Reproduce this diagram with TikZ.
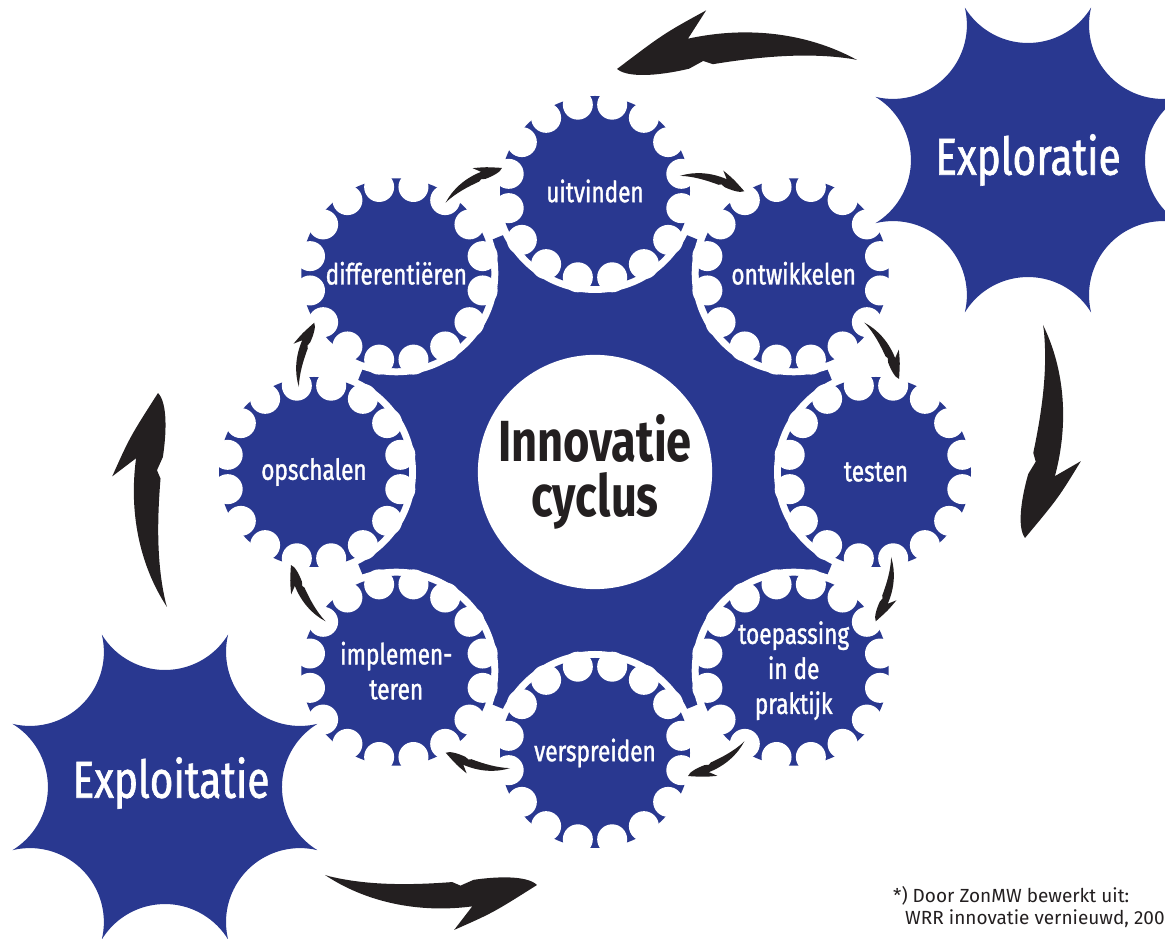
\documentclass[tikz,border=0pt]{standalone}
\usepackage{fontspec}
\setmainfont{Fira Sans}[FakeStretch=0.78]
\newfontfamily\gearfont{Fira Sans}[FakeStretch=0.78,FakeBold=1.2]
\newfontfamily\notefont{Fira Sans}
\usetikzlibrary{calc}
\definecolor{zonblue}{RGB}{41,56,144}
\definecolor{inkblack}{RGB}{35,31,32}
\tikzset{
  brush/.pic={\fill[inkblack] (0,0) .. controls (0.2,0.12) and (0.45,0.16) .. (0.7,0.115)
    -- (0.62,0.23) .. controls (0.8,0.14) .. (1,0)
    .. controls (0.95,-0.045) and (0.8,-0.03) .. (0.7,-0.01) -- (0.64,0.02) -- (0.6,0.005)
    .. controls (0.4,0.03) and (0.2,0.04) .. (0.02,0.005) -- cycle;},
  gear/.style={circle,fill=zonblue,minimum size=190pt,inner sep=0pt,text=white,align=center,
    font=\gearfont\fontsize{29}{35}\selectfont},
  bigtext/.style={text=white,font=\gearfont\fontsize{52}{52}\selectfont},
  note/.style={anchor=base west,inner sep=0pt,text=inkblack,font=\notefont\fontsize{19}{19}\selectfont}
}
\newcommand\brusharrow[3][]{%
  \path let \p1=($(#3)-(#2)$), \n1={atan2(\y1,\x1)}, \n2={veclen(\x1,\y1)} in
    (#2) pic[rotate=\n1,#1,scale=\n2/1pt] {brush};}

\begin{document}
\begin{tikzpicture}[x=1pt,y=1pt]
\useasboundingbox (0,0) rectangle (1165,939);
\clip (0,0) rectangle (1165,939);
\coordinate (C0) at (595,467);
\coordinate (explor) at (1028,779);
\coordinate (exploit) at (165,152);

% central star with the cycle
\fill[zonblue] (C0) circle (254pt);
\foreach \ang in {90,45,...,-225} \fill[white] (C0) ++(\ang:281) circle (102pt);
\node[circle,fill=white,minimum size=220pt,text=inkblack,align=center,
  font=\bfseries\fontsize{58}{55}\selectfont] (core) at (C0) {Innovatie\\cyclus};

% gears
\foreach \ang/\txt [count=\i] in {90/uitvinden,45/ontwikkelen,0/testen,
    -45/{toepassing\\in de\\praktijk},-90/verspreiden,-135/{implemen-\\teren},
    180/opschalen,135/differentiëren} {
  \node[gear] (g\i) at ($(C0)+(\ang:281)$) {\txt};
  \foreach \t in {11.25,33.75,...,348.75} \fill[white] (g\i.center) ++(\t:88) circle (15pt);
}

% exploration / exploitation
\foreach \c in {explor,exploit}
  \fill[zonblue] (\c) ++(22.5:165) \foreach \a in {22.5,67.5,...,337.5}
    {arc[start angle=\a+261.1,end angle=\a+143.9,radius=74pt]} -- cycle;
\node[bigtext] (exploratie) at (explor) {Exploratie};
\node[bigtext] (exploitatie) at ($(exploit)+(6,4)$) {Exploitatie};

% big arrows
\coordinate (topT) at (857,879); \coordinate (topH) at (617,870);
\coordinate (rightT) at (1043,614); \coordinate (rightH) at (1025,401);
\coordinate (leftT) at (167,332); \coordinate (leftH) at (158,546);
\coordinate (botT) at (325,64); \coordinate (botH) at (537,54);
\brusharrow[yscale=-1]{topT}{topH}
\brusharrow{rightT}{rightH}
\brusharrow{leftT}{leftH}
\brusharrow[yscale=-1]{botT}{botH}

% small arrows between the gears
\foreach \m in {112.5,67.5,...,-202.5} {
  \coordinate (s) at ($(C0)+(\m+6.5:308)$);
  \coordinate (e) at ($(C0)+(\m-5.5:318)$);
  \brusharrow{s}{e}
}

\node[note] (note1) at (893,36) {*) Door ZonMW bewerkt uit:};
\node[note] (note2) at (905,14) {WRR innovatie vernieuwd, 200};
\end{tikzpicture}
\end{document}
